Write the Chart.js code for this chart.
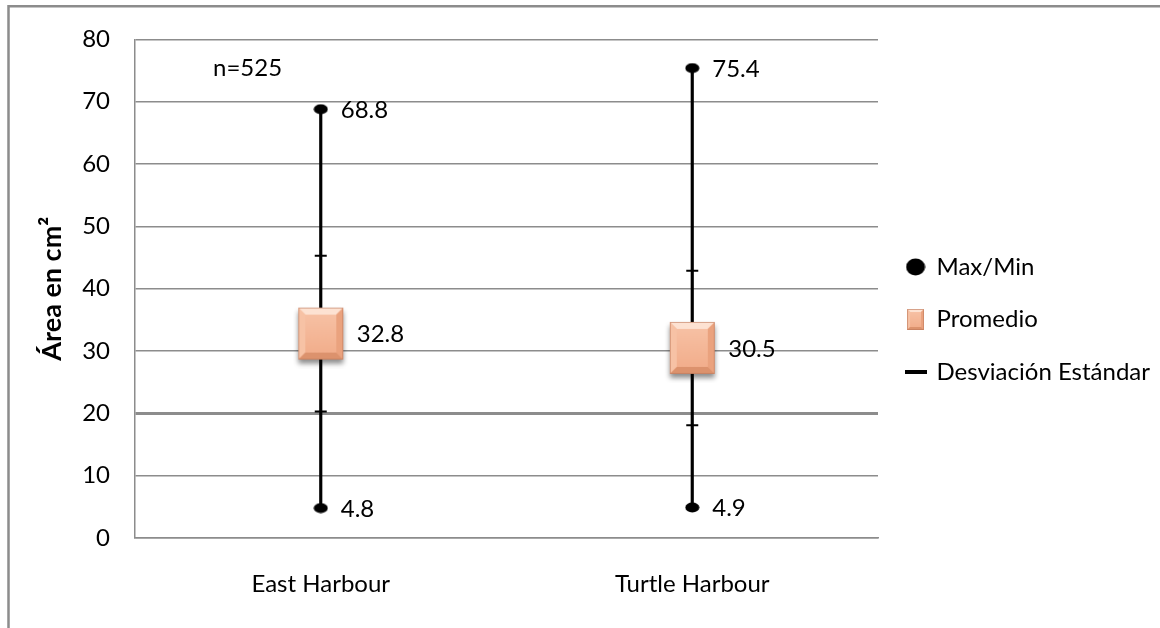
<!DOCTYPE html>
<html>
<head>
<meta charset="utf-8">
<script src="https://cdn.jsdelivr.net/npm/chart.js@4/dist/chart.umd.min.js"></script>
<style>
  html, body { margin: 0; padding: 0; background: #fff; }
  #wrap { width: 1160px; height: 628px; }
</style>
</head>
<body>
<div id="wrap"><canvas id="areaChart"></canvas></div>
<script>
// Área por sitio: mínimo, máximo, promedio y desviación estándar
const sites = ['East Harbour', 'Turtle Harbour'];
const maxVals = [68.8, 75.4];
const minVals = [4.8, 4.9];
const meanVals = [32.8, 30.5];
const sdVals = [12.5, 12.4];
const yTicks = [0, 10, 20, 30, 40, 50, 60, 70, 80];
const sampleNote = 'n=525';

const FONT = "Lato, 'Liberation Sans Narrow', 'DejaVu Sans Condensed', sans-serif";
Chart.defaults.font.family = FONT;
Chart.defaults.color = '#000';

// marker images
function makeCanvas(w, h, draw) {
  const c = document.createElement('canvas');
  c.width = w; c.height = h;
  draw(c.getContext('2d'), w, h);
  return c;
}

function dot(w, h) {
  return makeCanvas(w, h, (ctx) => {
    ctx.fillStyle = '#000';
    ctx.beginPath();
    ctx.ellipse(w / 2, h / 2, w / 2 - 0.5, h / 2 - 0.5, 0, 0, Math.PI * 2);
    ctx.fill();
  });
}

// beveled salmon square with a soft drop shadow
function bevelBox(sw, sh, margin, bevel, shadow) {
  const w = sw + margin * 2, h = sh + margin * 2;
  return makeCanvas(w, h, (ctx) => {
    const x0 = margin, y0 = margin, x1 = margin + sw, y1 = margin + sh;
    if (shadow) {
      ctx.save();
      ctx.shadowColor = 'rgba(0,0,0,0.45)';
      ctx.shadowBlur = 5;
      ctx.shadowOffsetY = 4;
      ctx.fillStyle = '#eeaa88';
      ctx.fillRect(x0, y0, sw, sh);
      ctx.restore();
    }
    const b = bevel;
    const face = ctx.createLinearGradient(0, y0, 0, y1);
    face.addColorStop(0, '#f8c4a8');
    face.addColorStop(1, '#f1ab88');
    ctx.fillStyle = face;
    ctx.fillRect(x0, y0, sw, sh);
    const poly = (pts, col) => {
      ctx.fillStyle = col;
      ctx.beginPath();
      ctx.moveTo(pts[0][0], pts[0][1]);
      for (let i = 1; i < pts.length; i++) ctx.lineTo(pts[i][0], pts[i][1]);
      ctx.closePath();
      ctx.fill();
    };
    poly([[x0, y0], [x1, y0], [x1 - b, y0 + b], [x0 + b, y0 + b]], '#fde2d2');
    poly([[x0, y0], [x0 + b, y0 + b], [x0 + b, y1 - b], [x0, y1]], '#f7c2a5');
    poly([[x1, y0], [x1, y1], [x1 - b, y1 - b], [x1 - b, y0 + b]], '#eaa27e');
    poly([[x0, y1], [x0 + b, y1 - b], [x1 - b, y1 - b], [x1, y1]], '#dc926d');
    ctx.strokeStyle = 'rgba(190,120,90,0.6)';
    ctx.lineWidth = 1;
    ctx.strokeRect(x0 + 0.5, y0 + 0.5, sw - 1, sh - 1);
  });
}

function dash(w, h) {
  return makeCanvas(w, h, (ctx) => {
    ctx.fillStyle = '#000';
    ctx.fillRect(0, 0, w, h);
  });
}

const meanImg = bevelBox(45, 52, 9, 7, true);
const dotImg = dot(15, 11);
const legendDot = dot(20, 18);
const legendBox = bevelBox(17, 21, 0, 3, false);
const legendDash = dash(22, 4);

const pts = (vals) => vals.map((v, i) => ({ x: sites[i], y: v }));
const sdHigh = meanVals.map((m, i) => +(m + sdVals[i]).toFixed(1));
const sdLow = meanVals.map((m, i) => +(m - sdVals[i]).toFixed(1));

// value labels and the sample size note
const labelPlugin = {
  id: 'valueLabels',
  afterDatasetsDraw(chart) {
    const ctx = chart.ctx;
    ctx.save();
    ctx.font = '24px ' + FONT;
    ctx.fillStyle = '#000';
    ctx.textAlign = 'left';
    ctx.textBaseline = 'middle';
    [[1, 20], [2, 36]].forEach(([idx, dx]) => {
      const ds = chart.data.datasets[idx];
      chart.getDatasetMeta(idx).data.forEach((p, i) => {
        ctx.fillText(ds.data[i].y.toFixed(1), p.x + dx, p.y + 1);
      });
    });
    const y = chart.scales.y;
    ctx.fillText(sampleNote, chart.chartArea.left + 78, y.getPixelForValue(75.3));
    ctx.restore();
  }
};

// outer frame lines (top and left)
const framePlugin = {
  id: 'frame',
  beforeDraw(chart) {
    const ctx = chart.ctx;
    ctx.save();
    ctx.strokeStyle = '#8c8c8c';
    ctx.lineWidth = 2.5;
    ctx.beginPath();
    ctx.moveTo(8.5, 628);
    ctx.lineTo(8.5, 6.3);
    ctx.lineTo(1160, 6.3);
    ctx.stroke();
    ctx.restore();
  }
};

const legendItems = [
  { text: 'Max/Min', pointStyle: legendDot },
  { text: 'Promedio', pointStyle: legendBox },
  { text: 'Desviación Estándar', pointStyle: legendDash }
];

new Chart(document.getElementById('areaChart'), {
  data: {
    labels: sites,
    datasets: [
      {
        type: 'bar',
        label: 'Rango',
        data: sites.map((s, i) => [minVals[i], maxVals[i]]),
        backgroundColor: '#000',
        barThickness: 2.5,
        order: 10
      },
      {
        type: 'line',
        label: 'Max/Min',
        data: pts(maxVals).concat(pts(minVals)),
        showLine: false,
        pointStyle: dotImg,
        order: 3
      },
      {
        type: 'line',
        label: 'Promedio',
        data: pts(meanVals),
        showLine: false,
        pointStyle: meanImg,
        order: 1
      },
      {
        type: 'line',
        label: 'Desviación Estándar',
        data: pts(sdHigh).concat(pts(sdLow)),
        showLine: false,
        pointStyle: 'line',
        pointRadius: 6,
        pointBorderWidth: 2,
        pointBorderColor: '#000',
        order: 5
      }
    ]
  },
  options: {
    responsive: true,
    maintainAspectRatio: false,
    animation: false,
    layout: { padding: { top: 39, right: 0, bottom: 28, left: 0 } },
    plugins: {
      tooltip: { enabled: false },
      legend: {
        position: 'right',
        maxWidth: 283,
        labels: {
          usePointStyle: true,
          pointStyleWidth: 18,
          padding: 28.5,
          font: { size: 24 },
          generateLabels: () => legendItems.map((it) => ({
            text: it.text,
            pointStyle: it.pointStyle,
            fillStyle: '#000',
            strokeStyle: '#000',
            lineWidth: 0,
            hidden: false
          }))
        }
      }
    },
    scales: {
      x: {
        type: 'category',
        afterFit: (scale) => { scale.height = 62; },
        grid: { display: false },
        border: { display: true, color: '#8c8c8c', width: 1.5 },
        ticks: { font: { size: 24 }, padding: 24 }
      },
      y: {
        min: 0,
        max: 80,
        afterBuildTicks: (scale) => { scale.ticks = yTicks.map((v) => ({ value: v })); },
        afterFit: (scale) => { scale.width = 135; },
        grid: {
          color: '#8c8c8c',
          lineWidth: (c) => (c.tick && c.tick.value === 20 ? 3 : 1.5),
          drawTicks: false
        },
        border: { display: true, color: '#8c8c8c', width: 1.5 },
        ticks: { font: { size: 24 }, padding: 25 },
        title: {
          display: true,
          text: 'Área en cm²',
          font: { size: 27, weight: 'bold' },
          padding: { top: 36, bottom: 0 }
        }
      }
    }
  },
  plugins: [framePlugin, labelPlugin]
});
</script>
</body>
</html>
